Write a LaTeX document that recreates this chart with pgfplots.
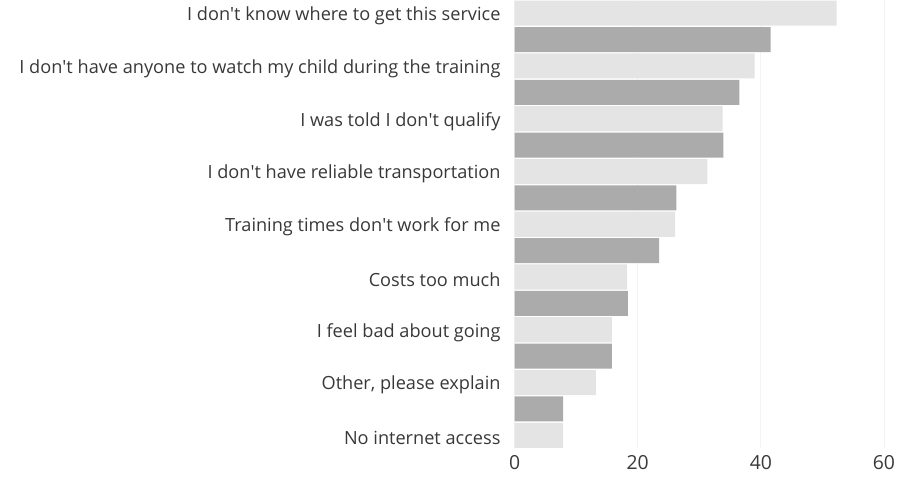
\documentclass[border=0pt]{standalone}
\usepackage{pgfplots}
\pgfplotsset{compat=1.18}
\usepackage{fontspec}
\setmainfont{Open Sans}
\newcommand{\q}{\textquotesingle}
\definecolor{lightbar}{HTML}{E4E4E4}
\definecolor{darkbar}{HTML}{ABABAB}
\definecolor{txt}{HTML}{383838}
\definecolor{gridc}{HTML}{F3F3F3}
\begin{document}
\begin{tikzpicture}
\begin{axis}[
  scale only axis,
  width=276.75pt, height=336pt,
  xmin=0, xmax=60,
  ymin=-0.5, ymax=16.5,
  y dir=reverse,
  axis line style={draw=none},
  xtick={0,20,40,60},
  ytick={0,2,4,6,8,10,12,14,16},
  yticklabels={I don\q t know where to get this service,
    I don\q t have anyone to watch my child during the training,
    I was told I don\q t qualify,
    I don\q t have reliable transportation,
    Training times don\q t work for me,
    Costs too much,
    I feel bad about going,
    {Other, please explain},
    No internet access},
  major tick length=0pt,
  xmajorgrids, grid style={gridc, line width=0.6pt},
  yticklabel style={font=\fontsize{13.6}{15}\selectfont, text=txt, xshift=-7pt, yshift=-2pt},
  xticklabel style={font=\fontsize{14.5}{16}\selectfont, text=txt, yshift=-2pt},
  /pgf/number format/assume math mode=true,
  xbar, bar width=0.95, bar shift=0pt,
]
\addplot[fill=lightbar, draw=none] coordinates {
 (52.3,0) (39.0,2) (33.8,4) (31.3,6) (26.1,8) (18.3,10) (15.8,12) (13.2,14) (7.9,16)};
\addplot[fill=darkbar, draw=none] coordinates {
 (41.6,1) (36.5,3) (33.9,5) (26.3,7) (23.5,9) (18.4,11) (15.8,13) (7.9,15)};
\end{axis}
\pgfresetboundingbox
\useasboundingbox ([xshift=-385.5pt]current axis.north west) rectangle ([xshift=20.25pt,yshift=-22.5pt]current axis.south east);
\end{tikzpicture}
\end{document}
